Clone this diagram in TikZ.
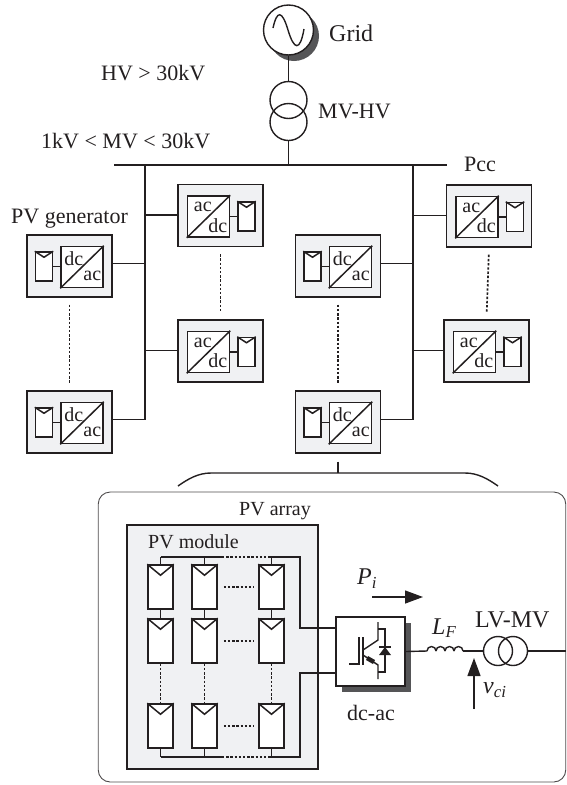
\documentclass[tikz,border=0pt]{standalone}
\usepackage{xcolor}
\usepackage{fontspec}
\setmainfont{Liberation Serif}
\usepackage{tikz}
\usetikzlibrary{arrows.meta, calc}
\definecolor{softgray}{RGB}{240, 241, 243}
\definecolor{inkdark}{RGB}{35, 31, 32}
\definecolor{shadowgray}{RGB}{85, 85, 87}
\tikzset{
  wire/.style={draw=inkdark, line width=1.4pt},
  busbar/.style={draw=inkdark, line width=2pt},
  dotline/.style={draw=inkdark, line width=1.7pt, dash pattern=on 2.4pt off 1.8pt},
  genbox/.style={draw=inkdark, fill=softgray, line width=1.4pt, minimum width=85pt, minimum height=62pt, inner sep=0pt},
  convbox/.style={draw=inkdark, fill=white, line width=1.5pt, minimum width=42pt, minimum height=41pt, inner sep=0pt},
  modbox/.style={draw=inkdark, fill=white, line width=1.5pt, minimum width=17pt, minimum height=29pt, inner sep=0pt},
  panelbox/.style={draw=inkdark, fill=white, line width=1.5pt, minimum width=25pt, minimum height=44pt, inner sep=0pt},
  ringnode/.style={circle, draw=inkdark, line width=1.4pt, inner sep=0pt},
  txt/.style={text=inkdark, inner sep=0pt, font=\fontsize{22}{24}\selectfont},
  smalltxt/.style={text=inkdark, inner sep=0pt, font=\fontsize{20}{22}\selectfont},
  bigtxt/.style={text=inkdark, inner sep=0pt, font=\fontsize{24}{26}\selectfont},
  bighead/.style={-{Triangle[length=18pt, width=13pt]}, draw=inkdark, fill=inkdark, line width=1.3pt}
}
\begin{document}
\begin{tikzpicture}[x=1pt, y=-1pt]
  \useasboundingbox (0,0) rectangle (566,785);
  % source and step-up transformer
  \node[circle, fill=shadowgray, minimum size=50pt, inner sep=0pt] (gridshadow) at (294,36) {};
  \node[ringnode, fill=white, minimum size=50pt] (grid) at (288.5,30) {};
  \draw[wire] (273,28) .. controls (277,10) and (282,10) .. (288,30) .. controls (294,50) and (300,52) .. (304,29);
  \node[ringnode, minimum size=37pt] (hvup) at (288.5,100) {};
  \node[ringnode, minimum size=37pt] (hvlow) at (288.5,122) {};
  \coordinate (busl) at (114,165);
  \coordinate (busr) at (447,165);
  \coordinate (bustap) at (288.5,165);
  \coordinate (feedl) at (145,165);
  \coordinate (feedr) at (413,165);
  \draw[wire] (grid.south) -- (hvup.north);
  \draw[wire] (hvlow.south) -- (bustap);
  \draw[busbar] (busl) -- (busr);
  \node[bigtxt, right] (gridlabel) at (329,33) {Grid};
  \node[txt, right] (mvhvlabel) at (318,111) {MV-HV};
  \node[txt, right] (hvlabel) at (101,73) {HV > 30kV};
  \node[txt, right] (mvlabel) at (41,141) {1kV < MV < 30kV};
  \node[txt, right] (pcclabel) at (464,164) {Pcc};
  \node[txt, right] (genlabel) at (11,219) {PV generator};
  % generators with the module on the left
  \foreach \n/\x/\y/\f in {g1/69.5/266/feedl, g2/69.5/422/feedl, g3/338/266/feedr, g4/338/422/feedr}{
    \node[genbox] (\n) at (\x,\y) {};
    \node[convbox] (\n c) at (\x+12.5,\y+1) {};
    \node[modbox] (\n m) at (\x-25.5,\y+0.5) {};
    \draw[line width=1.5pt, draw=inkdark] (\n c.south west) -- (\n c.north east);
    \draw[line width=1.5pt, draw=inkdark] (\n m.north west) -- ($(\n m.north)+(0,6)$) -- (\n m.north east);
    \draw[wire] (\n m.east) -- (\n m.east -| \n c.west);
    \node[smalltxt] (\n d) at ($(\n c.north west)+(13.5,13)$) {dc};
    \node[smalltxt] (\n a) at ($(\n c.north west)+(32,30)$) {ac};
    \draw[wire] ($(\n.east)+(0,-2.5)$) -| (\f);
  }
  % generators with the module on the right
  \foreach \n/\x/\y/\f in {g5/220.5/215.5/feedl, g6/220.5/351/feedl, g7/489/216/feedr, g8/486.5/351/feedr}{
    \node[genbox] (\n) at (\x,\y) {};
    \node[convbox] (\n c) at (\x-12,\y+1) {};
    \node[modbox] (\n m) at (\x+26,\y+1) {};
    \draw[line width=1.5pt, draw=inkdark] (\n c.south west) -- (\n c.north east);
    \draw[line width=1.5pt, draw=inkdark] (\n m.north west) -- ($(\n m.north)+(0,6)$) -- (\n m.north east);
    \draw[wire] (\n c.east) -- (\n c.east -| \n m.west);
    \node[smalltxt] (\n a) at ($(\n c.north west)+(16,12)$) {ac};
    \node[smalltxt] (\n d) at ($(\n c.north west)+(31,30)$) {dc};
    \draw[wire] ($(\n.west)+(0,-0.5)$) -| (\f);
  }
  \foreach \a/\b in {g1/g2, g3/g4, g5/g6, g7/g8}{
    \draw[dotline, shorten <=7pt, shorten >=7pt] (\a.south) -- (\b.north);
  }
  % bracket to the detail
  \coordinate (braceup) at (338,473);
  \draw[wire] (g4.south) ++(0,8) -- (braceup);
  \draw[wire] (178,486) .. controls (188,479) and (198,473) .. (211,473) -- (465,473) .. controls (478,473) and (488,479) .. (498,486);
  % detail frame
  \node[draw=inkdark!80, line width=0.9pt, rounded corners=12pt, minimum width=467.5pt, minimum height=290pt, inner sep=0pt] (detail) at (332,637) {};
  \node[genbox, minimum width=191pt, minimum height=244pt] (array) at (222.5,647) {};
  \node[smalltxt, right] (arraylabel) at (239,511) {PV array};
  \node[smalltxt, right] (modulelabel) at (148,542) {PV module};
  % panels of the array
  \foreach \c/\x in {1/160.5, 2/204.5, 3/271.5}{
    \foreach \r/\y in {1/587, 2/641, 3/726}{
      \node[panelbox] (p\c\r) at (\x,\y) {};
      \draw[line width=1.5pt, draw=inkdark] (p\c\r.north west) -- ($(p\c\r.north)+(0,11)$) -- (p\c\r.north east);
    }
    \coordinate (top\c) at (\x,557);
    \coordinate (bot\c) at (\x,757);
    \draw[wire] (p\c1.north) -- (top\c);
    \draw[wire] (p\c1.south) -- (p\c2.north);
    \draw[dotline] (p\c2.south) -- (p\c3.north);
    \draw[wire] (p\c3.south) -- (bot\c);
  }
  \foreach \r in {1,2,3}{
    \draw[dotline, shorten <=6pt, shorten >=5pt] (p2\r.east) -- (p3\r.west);
  }
  \coordinate (railtr) at (300,557);
  \coordinate (railbr) at (300,757);
  \coordinate (dotta) at (222,557);
  \coordinate (dottb) at (268,557);
  \coordinate (dotba) at (222,757);
  \coordinate (dotbb) at (268,757);
  % inverter
  \node[draw=none, fill=shadowgray, minimum width=69pt, minimum height=69pt, inner sep=0pt] (dcacshadow) at (376,657) {};
  \node[draw=inkdark, fill=white, line width=1.5pt, minimum width=69pt, minimum height=69pt, inner sep=0pt] (dcac) at (370.5,651.5) {};
  \coordinate (dcupper) at (336,628);
  \coordinate (dclower) at (336,673);
  \draw[wire] (top1) -- (dotta);
  \draw[dotline] (dotta) -- (dottb);
  \draw[wire] (dottb) -- (railtr) |- (dcupper);
  \draw[wire] (bot1) -- (dotba);
  \draw[dotline] (dotba) -- (dotbb);
  \draw[wire] (dotbb) -- (railbr) |- (dclower);
  % igbt with its diode
  \draw[wire] (349,664) -- (359,664) -- (359,637);
  \draw[wire] (363,637) -- (363,665);
  \draw[wire] (378,622) -- (378,640) -- (363,650);
  \draw[wire] (363,655) -- (378,665) -- (378,679);
  \draw[wire] (378,629) -- (385,629) -- (385,672) -- (378,672);
  \fill[inkdark] (385,647) -- (379,655) -- (391,655) -- cycle;
  \draw[wire] (379,647) -- (391,647);
  \fill[inkdark] (368,656) -- (375,660) -- (373,664) -- (366,660) -- cycle;
  \node[txt, right] (dcaclabel) at (347,713) {dc-ac};
  % filter and transformer at the output
  \coordinate (lfa) at (427,651);
  \coordinate (lfb) at (463,651);
  \draw[wire] (dcac.east) -- (lfa);
  \foreach \k in {0,...,3}{
    \draw[wire] ({427+9*\k},651) arc[start angle=180, end angle=0, radius=4.5pt];
  }
  \node[ringnode, minimum size=29pt] (lvleft) at (498,651) {};
  \node[ringnode, minimum size=29pt] (lvright) at (513,651) {};
  \coordinate (outend) at (566,651);
  \draw[wire] (lfb) -- (lvleft.west);
  \draw[busbar, line width=1.6pt] (lvright.east) -- (outend);
  \node[bigtxt, right] (lvlabel) at (475,620) {LV-MV};
  \node[bigtxt, right] (lflabel) at (432,628) {\textit{L}\textsubscript{\textit{F}}};
  \node[bigtxt, right] (pilabel) at (357,579) {\textit{P}\textsubscript{\textit{i}}};
  \node[bigtxt, right] (vcilabel) at (483,690) {\textit{v}\textsubscript{\textit{ci}}};
  \coordinate (pistart) at (372,597);
  \coordinate (piend) at (423,597);
  \coordinate (vstart) at (474,709);
  \coordinate (vend) at (474,658);
  \draw[bighead] (pistart) -- (piend);
  \draw[bighead] (vstart) -- (vend);
\end{tikzpicture}
\end{document}
